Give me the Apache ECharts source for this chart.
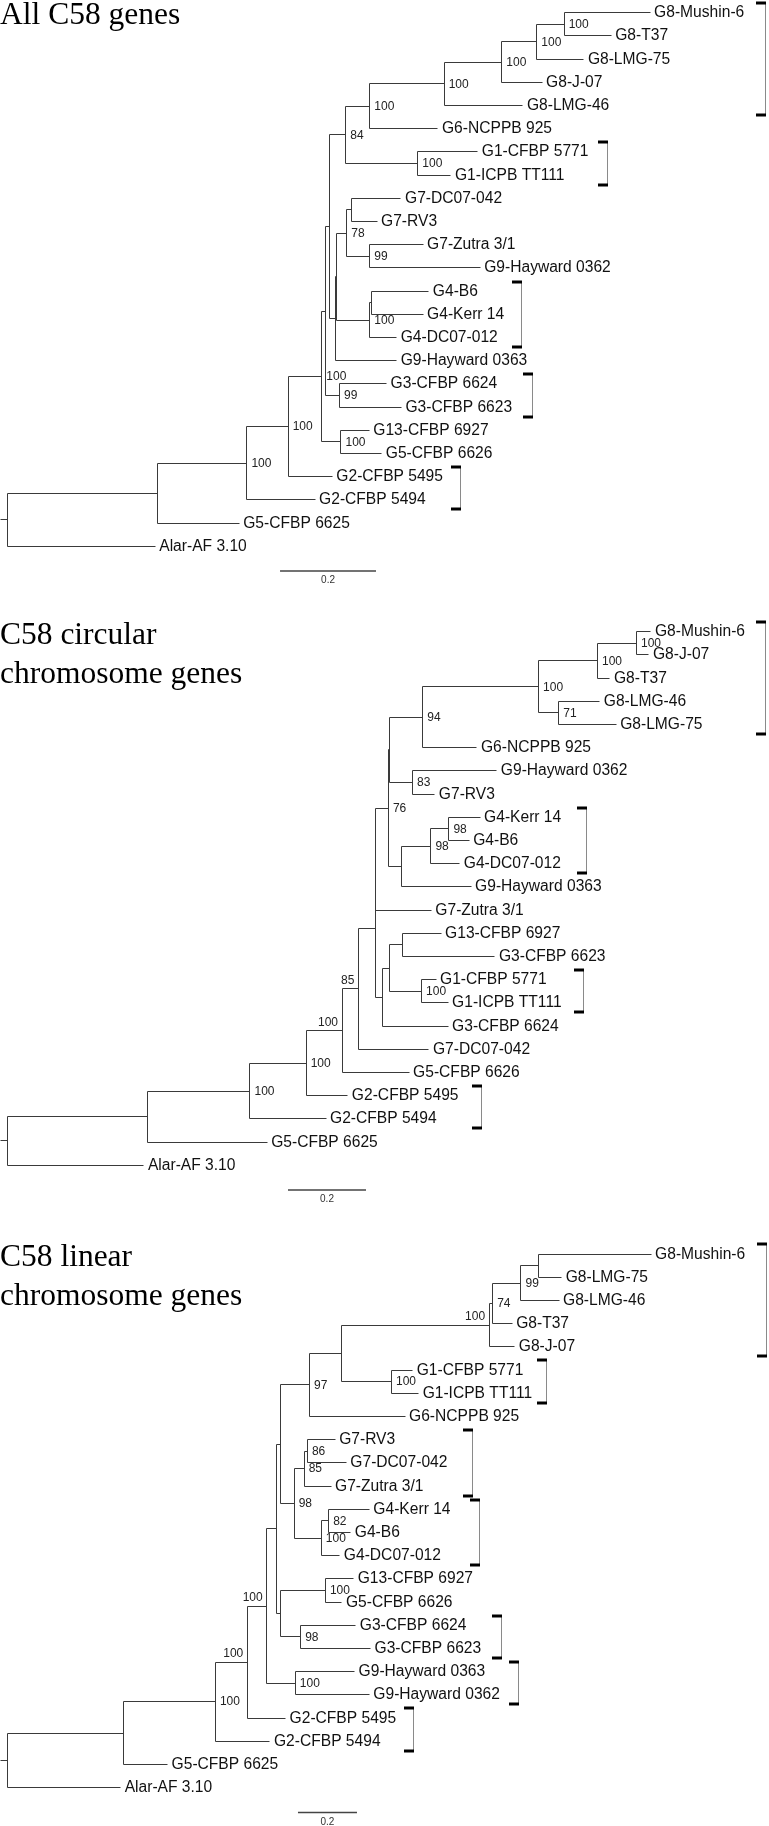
<!DOCTYPE html>
<html>
<head>
<meta charset="utf-8">
<script src="https://cdn.jsdelivr.net/npm/echarts@6/dist/echarts.min.js"></script>
<style>html,body{margin:0;padding:0;background:#fff}#c{width:769px;height:1826px}</style>
</head>
<body>
<div id="c"></div>
<script>
// ================= DATA =================
const titles = ['All C58 genes', 'C58 circular\nchromosome genes', 'C58 linear\nchromosome genes'];
const scaleBarLength = 0.2;
const scaleBarLabel = '0.2';

// ---- Tree 1: All C58 genes ----
// tips: [label, parent node, depth from root]
const t1Tips = [
  ['G8-Mushin-6', 'A', 1.339],
  ['G8-T37', 'A', 1.258],
  ['G8-LMG-75', 'B', 1.201],
  ['G8-J-07', 'C', 1.114],
  ['G8-LMG-46', 'D', 1.074],
  ['G6-NCPPB 925', 'E', 0.897],
  ['G1-CFBP 5771', 'F', 0.980],
  ['G1-ICPB TT111', 'F', 0.924],
  ['G7-DC07-042', 'I', 0.820],
  ['G7-RV3', 'I', 0.770],
  ['G7-Zutra 3/1', 'K', 0.866],
  ['G9-Hayward 0362', 'K', 0.985],
  ['G4-B6', 'L2', 0.878],
  ['G4-Kerr 14', 'L2', 0.866],
  ['G4-DC07-012', 'L', 0.811],
  ['G9-Hayward 0363', 'Y', 0.811],
  ['G3-CFBP 6624', 'G3', 0.790],
  ['G3-CFBP 6623', 'G3', 0.821],
  ['G13-CFBP 6927', 'M', 0.754],
  ['G5-CFBP 6626', 'M', 0.780],
  ['G2-CFBP 5495', 'O', 0.677],
  ['G2-CFBP 5494', 'P', 0.641],
  ['G5-CFBP 6625', 'Q', 0.483],
  ['Alar-AF 3.10', 'R', 0.308]
];
// internal nodes: [id, parent, depth, bootstrap support]
const t1Nodes = [
  ['R', null, 0, null],
  ['Q', 'R', 0.312, null],
  ['P', 'Q', 0.499, 100],
  ['O', 'P', 0.585, 100],
  ['O1', 'O', 0.655, 100],
  ['N', 'O1', 0.662, null],
  ['H', 'N', 0.672, null],
  ['G', 'H', 0.705, 84],
  ['E', 'G', 0.755, 100],
  ['D', 'E', 0.910, 100],
  ['C', 'D', 1.030, 100],
  ['B', 'C', 1.103, 100],
  ['A', 'B', 1.160, 100],
  ['F', 'G', 0.855, 100],
  ['Y', 'H', 0.683, null],
  ['Z', 'Y', 0.686, null],
  ['J', 'Z', 0.707, 78],
  ['I', 'J', 0.716, null],
  ['K', 'J', 0.755, 99],
  ['L', 'Z', 0.755, 100],
  ['L2', 'L', 0.758, null],
  ['G3', 'N', 0.692, 99],
  ['M', 'O1', 0.695, 100]
];
const t1SupportAbove = [];
// brackets: [first tip index, last tip index, depth position]
const t1Brackets = [[0, 4, 1.580], [6, 7, 1.251], [12, 14, 1.070], [16, 17, 1.093], [20, 21, 0.944]];
const t1ScaleBarStart = 0.568;

// ---- Tree 2: C58 circular chromosome genes ----
const t2Tips = [
  ['G8-Mushin-6', 'a', 1.650],
  ['G8-J-07', 'a', 1.645],
  ['G8-T37', 'b', 1.545],
  ['G8-LMG-46', 'c', 1.519],
  ['G8-LMG-75', 'c', 1.561],
  ['G6-NCPPB 925', 'e', 1.204],
  ['G9-Hayward 0362', 'f', 1.255],
  ['G7-RV3', 'f', 1.096],
  ['G4-Kerr 14', 'k', 1.212],
  ['G4-B6', 'k', 1.184],
  ['G4-DC07-012', 'j', 1.160],
  ['G9-Hayward 0363', 'i', 1.189],
  ['G7-Zutra 3/1', 'p1', 1.087],
  ['G13-CFBP 6927', 'l', 1.112],
  ['G3-CFBP 6623', 'l', 1.250],
  ['G1-CFBP 5771', 'm', 1.099],
  ['G1-ICPB TT111', 'm', 1.130],
  ['G3-CFBP 6624', 'o', 1.130],
  ['G7-DC07-042', 'q', 1.081],
  ['G5-CFBP 6626', 'r', 1.030],
  ['G2-CFBP 5495', 's', 0.873],
  ['G2-CFBP 5494', 't', 0.817],
  ['G5-CFBP 6625', 'u', 0.666],
  ['Alar-AF 3.10', 'root', 0.350]
];
const t2Nodes = [
  ['root', null, 0, null],
  ['u', 'root', 0.360, null],
  ['t', 'u', 0.622, 100],
  ['s', 't', 0.766, 100],
  ['r', 's', 0.858, 100],
  ['q', 'r', 0.900, 85],
  ['p2', 'q', 0.943, null],
  ['p1', 'p2', 0.945, null],
  ['h', 'p1', 0.977, 76],
  ['g', 'h', 0.980, null],
  ['e', 'g', 1.065, 94],
  ['d', 'e', 1.362, 100],
  ['b', 'd', 1.513, 100],
  ['a', 'b', 1.613, 100],
  ['c', 'd', 1.414, 71],
  ['f', 'g', 1.039, 83],
  ['i', 'h', 1.010, null],
  ['j', 'i', 1.086, 98],
  ['k', 'j', 1.132, 98],
  ['o', 'p2', 0.961, null],
  ['n', 'o', 0.980, null],
  ['l', 'n', 1.014, null],
  ['m', 'n', 1.062, 100]
];
const t2SupportAbove = ['q', 'r'];
const t2Brackets = [[0, 4, 1.945], [8, 10, 1.484], [15, 16, 1.478], [20, 21, 1.216]];
const t2ScaleBarStart = 0.7195;

// ---- Tree 3: C58 linear chromosome genes ----
const t3Tips = [
  ['G8-Mushin-6', 'a', 2.182],
  ['G8-LMG-75', 'a', 1.879],
  ['G8-LMG-46', 'b', 1.870],
  ['G8-T37', 'c', 1.711],
  ['G8-J-07', 'd', 1.720],
  ['G1-CFBP 5771', 'e', 1.374],
  ['G1-ICPB TT111', 'e', 1.394],
  ['G6-NCPPB 925', 'g', 1.348],
  ['G7-RV3', 'h', 1.111],
  ['G7-DC07-042', 'h', 1.149],
  ['G7-Zutra 3/1', 'i', 1.097],
  ['G4-Kerr 14', 'k', 1.227],
  ['G4-B6', 'k', 1.164],
  ['G4-DC07-012', 'l', 1.127],
  ['G13-CFBP 6927', 'm', 1.174],
  ['G5-CFBP 6626', 'm', 1.134],
  ['G3-CFBP 6624', 'n', 1.181],
  ['G3-CFBP 6623', 'n', 1.231],
  ['G9-Hayward 0363', 'q', 1.177],
  ['G9-Hayward 0362', 'q', 1.227],
  ['G2-CFBP 5495', 'u', 0.943],
  ['G2-CFBP 5494', 'v', 0.890],
  ['G5-CFBP 6625', 'w', 0.543],
  ['Alar-AF 3.10', 'root', 0.384]
];
const t3Nodes = [
  ['root', null, 0, null],
  ['w', 'root', 0.392, null],
  ['v', 'w', 0.705, 100],
  ['u', 'v', 0.813, 100],
  ['r', 'u', 0.879, 100],
  ['t', 'r', 0.911, null],
  ['s', 't', 0.926, null],
  ['g', 's', 1.024, 97],
  ['f', 'g', 1.131, null],
  ['d', 'f', 1.633, 100],
  ['c', 'd', 1.645, 74],
  ['b', 'c', 1.741, 99],
  ['a', 'b', 1.799, null],
  ['e', 'f', 1.302, 100],
  ['j', 's', 0.972, 98],
  ['i', 'j', 1.006, 85],
  ['h', 'i', 1.017, 86],
  ['l', 'j', 1.064, 100],
  ['k', 'l', 1.089, 82],
  ['o', 't', 0.925, null],
  ['m', 'o', 1.078, 100],
  ['n', 'o', 0.994, 98],
  ['q', 'r', 0.976, 100]
];
const t3SupportAbove = ['d', 'r', 'u'];
const t3Brackets = [[0, 4, 2.572], [5, 6, 1.829], [8, 10, 1.578], [11, 13, 1.602], [16, 17, 1.675], [18, 19, 1.731], [20, 21, 1.378]];
const t3ScaleBarStart = 0.985;

// ================= LAYOUT / STYLE =================
const W = 769;
const LEAF_GAP = 23.2;
const ROOT_PX = 7.4;
const BRACKET_PAD = 0.41;
const SCALE_BAR_ROW = 24.07;
const BRANCH_COLOR = '#3a3a3a';
const LABEL_FONT = '"Liberation Sans", Arial, sans-serif';

const panels = [
  {tips: t1Tips, nodes: t1Nodes, above: t1SupportAbove, brackets: t1Brackets, bar: t1ScaleBarStart, top: 12.7, ppu: 480, titleTop: -4},
  {tips: t2Tips, nodes: t2Nodes, above: t2SupportAbove, brackets: t2Brackets, bar: t2ScaleBarStart, top: 631.7, ppu: 390, titleTop: 616.6},
  {tips: t3Tips, nodes: t3Nodes, above: t3SupportAbove, brackets: t3Brackets, bar: t3ScaleBarStart, top: 1254, ppu: 295, titleTop: 1238.2}
];

function snap(v) { return Math.floor(v) + 0.5; }

function buildTree(tips, nodes, xMin) {
  const info = {};
  nodes.forEach(n => { info[n[0]] = {id: n[0], parent: n[1], depth: n[2], support: n[3], kids: []}; });
  const tipObjs = tips.map((t, i) => ({y: i, depth: t[2], parent: t[1]}));
  tipObjs.forEach(t => info[t.parent].kids.push(t));
  nodes.forEach(n => { if (n[1] !== null) info[n[1]].kids.push(info[n[0]]); });
  function yOf(nd) {
    if (nd.y !== undefined) return nd.y;
    const ys = nd.kids.map(yOf);
    nd.minY = Math.min(...ys); nd.maxY = Math.max(...ys);
    nd.y = (nd.minY + nd.maxY) / 2;
    return nd.y;
  }
  const root = info[nodes[0][0]];
  yOf(root);
  const segs = [];
  segs.push([xMin, root.y, root.depth, root.y]);
  tipObjs.forEach(t => segs.push([info[t.parent].depth, t.y, t.depth, t.y]));
  Object.values(info).forEach(nd => {
    if (nd.parent !== null) segs.push([info[nd.parent].depth, nd.y, nd.depth, nd.y]);
    segs.push([nd.depth, nd.minY, nd.depth, nd.maxY]);
  });
  return {info, tipObjs, segs};
}

const option = {
  animation: false,
  title: [],
  grid: [], xAxis: [], yAxis: [], series: []
};

panels.forEach((p, pi) => {
  const xMin = -ROOT_PX / p.ppu;
  const xMax = (W - ROOT_PX) / p.ppu;
  const tree = buildTree(p.tips, p.nodes, xMin);
  option.title.push({
    text: titles[pi], left: 0, top: p.titleTop, padding: 0,
    textStyle: {fontFamily: '"Liberation Serif", "Times New Roman", serif', fontSize: 31.5, fontWeight: 'normal', color: '#000', lineHeight: 39}
  });
  option.grid.push({left: 0, top: p.top, width: W, height: 23 * LEAF_GAP});
  option.xAxis.push({type: 'value', gridIndex: pi, min: xMin, max: xMax, show: false});
  option.yAxis.push({type: 'value', gridIndex: pi, min: 0, max: 23, inverse: true, show: false});

  // branches
  option.series.push({
    type: 'custom', xAxisIndex: pi, yAxisIndex: pi, silent: true, clip: false,
    data: tree.segs,
    renderItem: (params, api) => {
      const a = api.coord([api.value(0), api.value(1)]);
      const b = api.coord([api.value(2), api.value(3)]);
      return {type: 'line', shape: {x1: snap(a[0]), y1: snap(a[1]), x2: snap(b[0]), y2: snap(b[1])},
        style: {stroke: BRANCH_COLOR, lineWidth: 1}};
    }
  });
  // tip labels
  option.series.push({
    type: 'custom', xAxisIndex: pi, yAxisIndex: pi, silent: true, clip: false,
    data: tree.tipObjs.map(t => [t.depth, t.y]),
    renderItem: (params, api) => {
      const c = api.coord([api.value(0), api.value(1)]);
      return {type: 'text', x: c[0] + 4, y: snap(c[1]),
        style: {text: p.tips[params.dataIndex][0], fill: '#111', fontSize: 15.6, fontFamily: LABEL_FONT, align: 'left', verticalAlign: 'middle'}};
    }
  });
  // bootstrap supports
  const sup = Object.values(tree.info).filter(nd => nd.support !== null)
    .map(nd => [nd.depth, nd.y, nd.support, p.above.indexOf(nd.id) >= 0 ? 1 : 0]);
  option.series.push({
    type: 'custom', xAxisIndex: pi, yAxisIndex: pi, silent: true, clip: false,
    data: sup,
    renderItem: (params, api) => {
      const c = api.coord([api.value(0), api.value(1)]);
      const above = api.value(3) === 1;
      return {type: 'text', x: above ? c[0] - 4 : c[0] + 4.5, y: above ? c[1] - 2 : c[1] + 0.5,
        style: {text: String(api.value(2)), fill: '#222', fontSize: 12, fontFamily: LABEL_FONT,
          align: above ? 'right' : 'left', verticalAlign: above ? 'bottom' : 'middle'}};
    }
  });
  // brackets
  option.series.push({
    type: 'custom', xAxisIndex: pi, yAxisIndex: pi, silent: true, clip: false,
    data: p.brackets.map(b => [b[2], b[0] - BRACKET_PAD, b[1] + BRACKET_PAD]),
    renderItem: (params, api) => {
      const t = api.coord([api.value(0), api.value(1)]);
      const b = api.coord([api.value(0), api.value(2)]);
      const x = snap(t[0]);
      return {type: 'group', children: [
        {type: 'line', shape: {x1: x, y1: t[1], x2: x, y2: b[1]}, style: {stroke: '#8a8a8a', lineWidth: 1}},
        {type: 'rect', shape: {x: x - 9.5, y: Math.round(t[1]) - 1.5, width: 10, height: 3}, style: {fill: '#000'}},
        {type: 'rect', shape: {x: x - 9.5, y: Math.round(b[1]) - 1.5, width: 10, height: 3}, style: {fill: '#000'}}
      ]};
    }
  });
  // scale bar
  option.series.push({
    type: 'custom', xAxisIndex: pi, yAxisIndex: pi, silent: true, clip: false,
    data: [[p.bar, p.bar + scaleBarLength, SCALE_BAR_ROW]],
    renderItem: (params, api) => {
      const a = api.coord([api.value(0), api.value(2)]);
      const b = api.coord([api.value(1), api.value(2)]);
      return {type: 'group', children: [
        {type: 'line', shape: {x1: a[0], y1: a[1], x2: b[0], y2: b[1]}, style: {stroke: '#444', lineWidth: 1.5}},
        {type: 'text', x: (a[0] + b[0]) / 2, y: a[1] + 9.5,
          style: {text: scaleBarLabel, fill: '#333', fontSize: 10, fontFamily: LABEL_FONT, align: 'center', verticalAlign: 'middle'}}
      ]};
    }
  });
});

const chart = echarts.init(document.getElementById('c'), null, {renderer: 'canvas', width: W, height: 1826});
chart.setOption(option);
</script>
</body>
</html>
